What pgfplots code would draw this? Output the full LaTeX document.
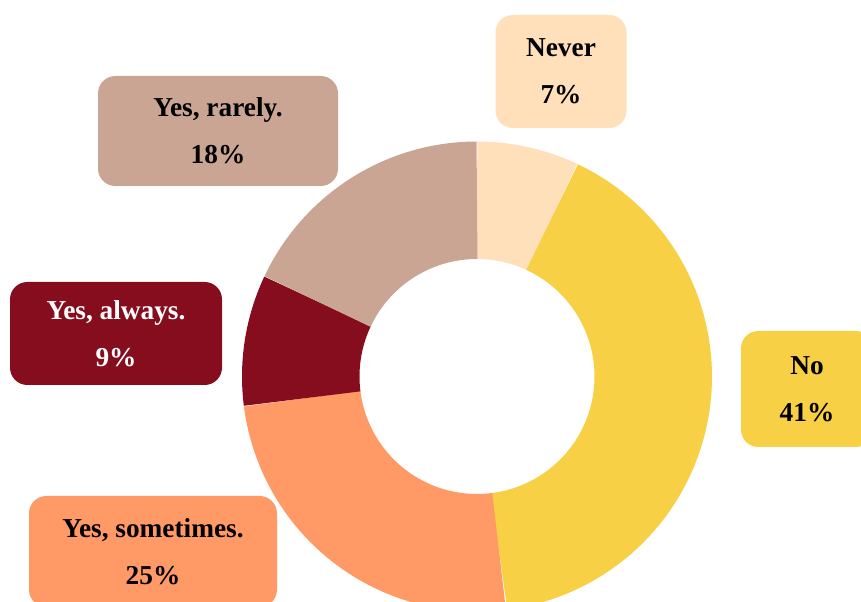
\documentclass[border=0pt]{standalone}
\usepackage{pgfplots}
\pgfplotsset{compat=1.18}
\usepackage{fontspec}
\setmainfont{Liberation Serif}
\definecolor{cNever}{HTML}{FFE0BA}
\definecolor{cNo}{HTML}{F7D046}
\definecolor{cSome}{HTML}{FF9A66}
\definecolor{cAlways}{HTML}{860D1D}
\definecolor{cRarely}{HTML}{CBA593}
% percentages, clockwise from 12 o'clock
\def\vNever{7}
\def\vNo{41}
\def\vSome{25}
\def\vAlways{9}
\def\vRarely{18}
\pgfmathsetmacro\aA{90}
\pgfmathsetmacro\aB{\aA-3.6*\vNever}
\pgfmathsetmacro\aC{\aB-3.6*\vNo}
\pgfmathsetmacro\aD{\aC-3.6*\vSome}
\pgfmathsetmacro\aE{\aD-3.6*\vAlways}
\pgfmathsetmacro\aF{\aE-3.6*\vRarely}
\begin{document}
\begin{tikzpicture}
\useasboundingbox (0,0) rectangle (645.75pt,451.5pt);
\clip (0,0) rectangle (645.75pt,451.5pt);
\begin{axis}[at={(0,0)}, anchor=south west, scale only axis,
  width=645.75pt, height=451.5pt,
  xmin=0, xmax=861, ymin=0, ymax=602,
  hide axis, clip=false,
  every axis plot/.append style={line width=88.125pt, samples=90, line cap=butt}]
\addplot[cNever, domain=\aB:\aA] ({477+176.25*cos(x)},{225.5+176.25*sin(x)});
\addplot[cNo, domain=\aC:\aB] ({477+176.25*cos(x)},{225.5+176.25*sin(x)});
\addplot[cSome, domain=\aD:\aC] ({477+176.25*cos(x)},{225.5+176.25*sin(x)});
\addplot[cAlways, domain=\aE:\aD] ({477+176.25*cos(x)},{225.5+176.25*sin(x)});
\addplot[cRarely, domain=\aF:\aE] ({477+176.25*cos(x)},{225.5+176.25*sin(x)});
\tikzset{lbl/.style={rounded corners=13pt, inner sep=0pt, align=center,
   font=\fontsize{20.5pt}{35pt}\selectfont\bfseries, text=black}}
\node[lbl, fill=cNever, minimum width=98.25pt, minimum height=84.75pt] at (axis cs:561,530.5) {Never\\\vNever\%};
\node[lbl, fill=cRarely, minimum width=180pt, minimum height=82.5pt] at (axis cs:218,471) {Yes, rarely.\\\vRarely\%};
\node[lbl, fill=cAlways, text=white, minimum width=159pt, minimum height=77.25pt] at (axis cs:116,268.5) {Yes, always.\\\vAlways\%};
\node[lbl, fill=cNo, minimum width=99pt, minimum height=87pt] at (axis cs:807,213) {No\\\vNo\%};
\node[lbl, fill=cSome, minimum width=186pt, minimum height=83.25pt] at (axis cs:153,50.5) {Yes, sometimes.\\\vSome\%};
\end{axis}
\end{tikzpicture}
\end{document}
